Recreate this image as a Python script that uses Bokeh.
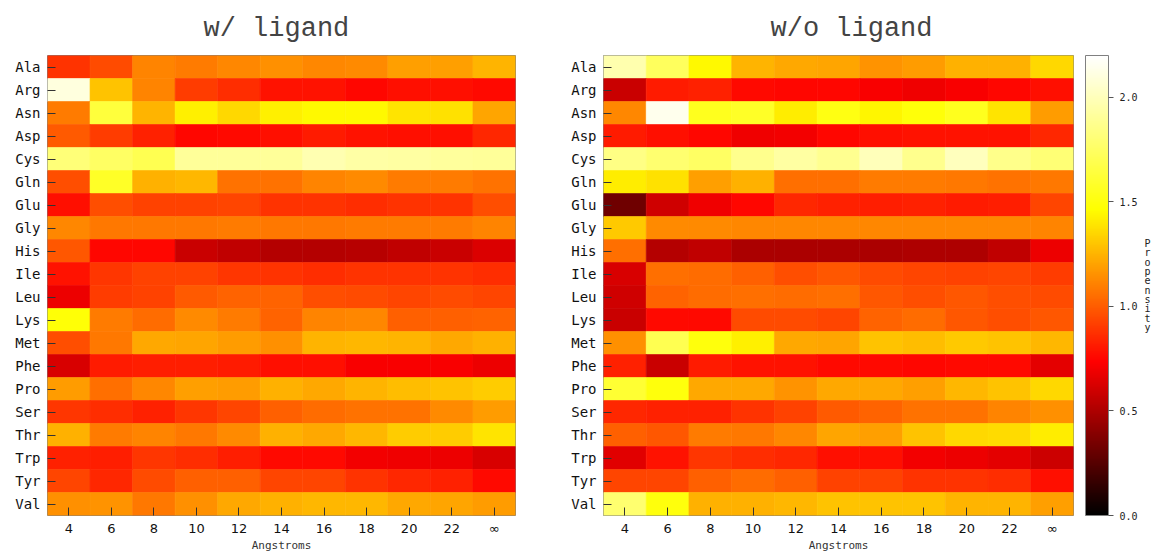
from bokeh.plotting import figure
from bokeh.layouts import row
from bokeh.models import (ColumnDataSource, LinearColorMapper, ColorBar, FixedTicker,
                          LinearAxis, Range1d, PrintfTickFormatter)
from bokeh.transform import linear_cmap
from bokeh.embed import file_html
from bokeh.resources import INLINE

residues = ["Ala", "Arg", "Asn", "Asp", "Cys", "Gln", "Glu", "Gly", "His", "Ile",
            "Leu", "Lys", "Met", "Phe", "Pro", "Ser", "Thr", "Trp", "Tyr", "Val"]
distances = ["4", "6", "8", "10", "12", "14", "16", "18", "20", "22", "\u221e"]

# propensity per residue (rows) and distance cutoff (columns)
with_ligand = [
    [0.88, 0.95, 1.11, 1.09, 1.12, 1.15, 1.12, 1.13, 1.19, 1.19, 1.25],  # Ala
    [2.10, 1.29, 1.11, 0.91, 0.86, 0.79, 0.79, 0.75, 0.78, 0.78, 0.76],  # Arg
    [1.09, 1.64, 1.25, 1.42, 1.35, 1.42, 1.45, 1.45, 1.39, 1.38, 1.21],  # Asn
    [0.99, 0.91, 0.83, 0.75, 0.76, 0.78, 0.81, 0.79, 0.78, 0.78, 0.85],  # Asp
    [1.81, 1.75, 1.70, 1.90, 1.90, 1.90, 1.97, 1.94, 1.93, 1.91, 1.90],  # Cys
    [0.96, 1.58, 1.24, 1.26, 1.06, 1.06, 1.11, 1.13, 1.09, 1.09, 1.06],  # Gln
    [0.78, 0.96, 0.92, 0.92, 0.93, 0.88, 0.88, 0.86, 0.88, 0.88, 0.96],  # Glu
    [1.12, 1.08, 1.08, 1.08, 1.09, 1.08, 1.08, 1.09, 1.09, 1.09, 1.11],  # Gly
    [0.98, 0.75, 0.75, 0.58, 0.55, 0.52, 0.52, 0.53, 0.55, 0.58, 0.63],  # His
    [0.79, 0.89, 0.92, 0.92, 0.89, 0.88, 0.86, 0.88, 0.88, 0.88, 0.86],  # Ile
    [0.68, 0.91, 0.92, 0.99, 1.02, 1.02, 0.96, 0.95, 0.93, 0.95, 0.93],  # Leu
    [1.48, 1.09, 1.04, 1.13, 1.09, 1.02, 1.11, 1.12, 1.01, 1.01, 1.02],  # Lys
    [0.96, 1.08, 1.22, 1.21, 1.18, 1.15, 1.25, 1.26, 1.25, 1.22, 1.24],  # Met
    [0.62, 0.81, 0.82, 0.82, 0.81, 0.78, 0.78, 0.72, 0.72, 0.72, 0.68],  # Phe
    [1.18, 1.05, 1.12, 1.19, 1.18, 1.24, 1.22, 1.25, 1.28, 1.29, 1.32],  # Pro
    [0.89, 0.86, 0.83, 0.89, 0.93, 1.01, 1.04, 1.06, 1.06, 1.13, 1.18],  # Ser
    [1.24, 1.09, 1.11, 1.08, 1.13, 1.24, 1.22, 1.26, 1.32, 1.32, 1.39],  # Thr
    [0.83, 0.82, 0.89, 0.86, 0.82, 0.76, 0.76, 0.70, 0.69, 0.68, 0.62],  # Trp
    [0.93, 0.85, 0.95, 1.01, 1.01, 0.93, 0.93, 0.88, 0.85, 0.83, 0.76],  # Tyr
    [1.15, 1.16, 1.08, 1.15, 1.22, 1.24, 1.26, 1.26, 1.22, 1.21, 1.18],  # Val
]

without_ligand = [
    [1.96, 1.73, 1.45, 1.25, 1.22, 1.21, 1.16, 1.18, 1.24, 1.24, 1.35],  # Ala
    [0.58, 0.81, 0.83, 0.76, 0.75, 0.75, 0.72, 0.69, 0.72, 0.75, 0.78],  # Arg
    [1.12, 2.14, 1.55, 1.58, 1.41, 1.52, 1.44, 1.49, 1.55, 1.39, 1.18],  # Asn
    [0.81, 0.78, 0.75, 0.69, 0.70, 0.75, 0.78, 0.79, 0.79, 0.79, 0.85],  # Asp
    [1.84, 1.78, 1.75, 1.87, 1.93, 1.88, 2.00, 1.87, 2.01, 1.86, 1.80],  # Cys
    [1.41, 1.38, 1.19, 1.24, 1.05, 1.05, 1.09, 1.09, 1.08, 1.06, 1.08],  # Gln
    [0.32, 0.60, 0.69, 0.75, 0.85, 0.83, 0.82, 0.83, 0.81, 0.82, 0.93],  # Glu
    [1.31, 1.13, 1.13, 1.12, 1.12, 1.12, 1.12, 1.12, 1.12, 1.12, 1.11],  # Gly
    [1.05, 0.52, 0.55, 0.49, 0.49, 0.49, 0.49, 0.50, 0.50, 0.55, 0.68],  # His
    [0.62, 1.05, 1.04, 1.01, 0.96, 0.98, 0.95, 0.93, 0.92, 0.93, 0.91],  # Ile
    [0.60, 1.02, 1.04, 1.05, 1.04, 1.05, 0.98, 0.96, 0.98, 0.96, 0.95],  # Leu
    [0.58, 0.76, 0.76, 0.95, 0.95, 0.93, 1.02, 1.04, 0.98, 0.96, 0.98],  # Lys
    [1.15, 1.70, 1.50, 1.42, 1.22, 1.21, 1.29, 1.28, 1.31, 1.29, 1.26],  # Met
    [0.83, 0.58, 0.81, 0.79, 0.79, 0.76, 0.76, 0.75, 0.76, 0.76, 0.66],  # Phe
    [1.61, 1.50, 1.22, 1.22, 1.16, 1.22, 1.22, 1.19, 1.26, 1.29, 1.35],  # Pro
    [0.85, 0.83, 0.83, 0.88, 0.92, 0.99, 1.02, 1.06, 1.06, 1.11, 1.15],  # Ser
    [1.01, 0.98, 1.09, 1.08, 1.12, 1.21, 1.19, 1.29, 1.35, 1.36, 1.41],  # Thr
    [0.65, 0.79, 0.89, 0.86, 0.85, 0.78, 0.78, 0.70, 0.68, 0.66, 0.59],  # Trp
    [0.93, 0.93, 1.01, 1.04, 1.01, 0.92, 0.92, 0.88, 0.88, 0.86, 0.78],  # Tyr
    [1.78, 1.50, 1.24, 1.24, 1.26, 1.29, 1.29, 1.29, 1.25, 1.25, 1.19],  # Val
]

VMIN, VMAX = 0.0, 2.2
colorbar_ticks = [0.0, 0.5, 1.0, 1.5, 2.0]
colorbar_title = "Propensity"


def hot_palette(n=256):
    """black -> red -> yellow -> white, each channel ramping over one third"""
    cols = []
    for i in range(n):
        t = i / (n - 1)
        r = min(max(3 * t, 0.0), 1.0)
        g = min(max(3 * t - 1, 0.0), 1.0)
        b = min(max(3 * t - 2, 0.0), 1.0)
        cols.append("#%02x%02x%02x" % (round(r * 255), round(g * 255), round(b * 255)))
    return cols


palette = hot_palette()
MONO = "DejaVu Sans Mono"


def heat_panel(title, values, frame_w, left, right, title_offset):
    p = figure(frame_width=frame_w, frame_height=460,
               x_range=Range1d(0, len(distances)), y_range=Range1d(0, len(residues)),
               title=title, output_backend="svg", toolbar_location=None,
               min_border_left=left, min_border_right=right,
               min_border_top=55, min_border_bottom=37)
    xs, ys, vs = [], [], []
    n = len(residues)
    for r in range(n):
        for c in range(len(distances)):
            xs.append(c + 0.5)
            ys.append(n - r - 0.5)
            vs.append(values[r][c])
    src = ColumnDataSource(dict(x=xs, y=ys, v=vs))
    cmap = linear_cmap("v", palette, VMIN, VMAX)
    p.rect("x", "y", width=1, height=1, source=src,
           fill_color=cmap, line_color=cmap, line_width=0.6)

    p.grid.visible = False
    p.outline_line_color = "#808080"
    p.outline_line_width = 1
    p.background_fill_color = "white"
    p.border_fill_color = "white"

    p.title.align = "left"
    p.title.offset = title_offset
    p.title.text_font = "Liberation Mono"
    p.title.text_font_size = "27px"
    p.title.text_font_style = "normal"
    p.title.text_color = "#444444"
    p.title.standoff = 23

    xa = p.xaxis[0]
    xa.ticker = FixedTicker(ticks=[i + 0.5 for i in range(len(distances))])
    xa.major_label_overrides = {i + 0.5: d for i, d in enumerate(distances)}
    xa.axis_label = "Angstroms"
    xa.axis_label_text_font = MONO
    xa.axis_label_text_font_size = "11px"
    xa.axis_label_text_font_style = "normal"
    xa.axis_label_text_color = "#333333"
    xa.axis_label_standoff = 0
    xa.major_label_text_font = "DejaVu Sans"
    xa.major_label_text_font_size = "13px"
    xa.major_label_text_color = "#111111"
    xa.major_label_standoff = 5

    ya = p.yaxis[0]
    ya.ticker = FixedTicker(ticks=[i + 0.5 for i in range(n)])
    ya.major_label_overrides = {n - r - 0.5: res for r, res in enumerate(residues)}
    ya.major_label_text_font = MONO
    ya.major_label_text_font_size = "14px"
    ya.major_label_text_color = "#111111"
    ya.major_label_standoff = 7

    for ax in (xa, ya):
        ax.axis_line_color = None
        ax.major_tick_in = 8
        ax.major_tick_out = 0
        ax.major_tick_line_color = "#333333"
        ax.minor_tick_line_color = None
    return p


p1 = heat_panel("w/ ligand", with_ligand, 468, 47, 45, 156)
p2 = heat_panel("w/o ligand", without_ligand, 470, 43, 79, 167)

mapper = LinearColorMapper(palette=palette, low=VMIN, high=VMAX)
cbar = ColorBar(color_mapper=mapper, width=23, padding=0, margin=0, location=(12, 0),
                ticker=FixedTicker(ticks=colorbar_ticks),
                formatter=PrintfTickFormatter(format="%.1f"),
                major_label_text_font=MONO, major_label_text_font_size="10px",
                major_label_text_color="#222222", label_standoff=6,
                major_tick_in=0, major_tick_out=5, major_tick_line_color="#555555",
                bar_line_color="#808080", border_line_color=None,
                background_fill_color=None)
p2.add_layout(cbar, "right")

# stacked-letter title for the colour scale, drawn as a tick-less axis label
title_axis = LinearAxis(ticker=FixedTicker(ticks=[]), axis_line_color=None,
                        major_tick_line_color=None, minor_tick_line_color=None,
                        major_label_text_font_size="0px",
                        axis_label="\n".join(colorbar_title),
                        axis_label_text_font=MONO, axis_label_text_font_size="10px",
                        axis_label_text_font_style="normal",
                        axis_label_text_color="#222222", axis_label_standoff=4,
                        axis_label_text_line_height=0.85)
if "axis_label_orientation" in title_axis.properties():
    title_axis.axis_label_orientation = "horizontal"
p2.add_layout(title_axis, "right")

layout = row(p1, p2)

open("out.html", "w").write(file_html(layout, INLINE))
